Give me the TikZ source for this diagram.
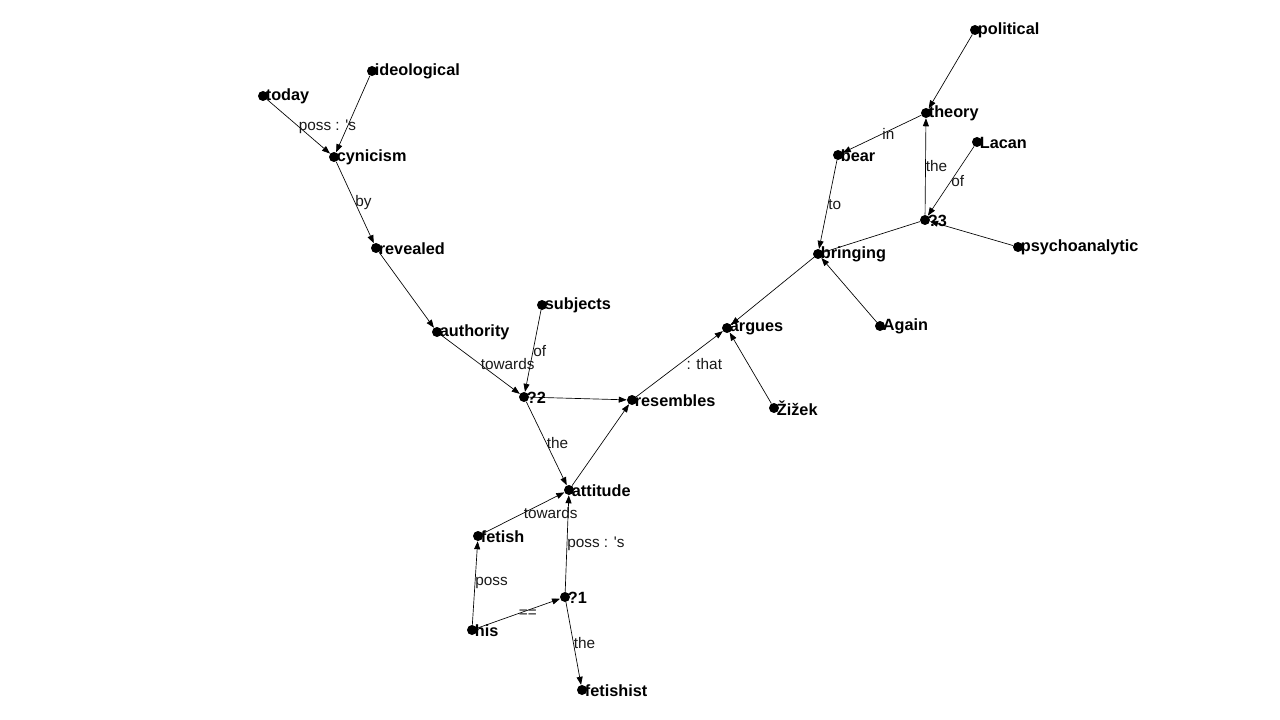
\documentclass[tikz,border=0pt]{standalone}
\usepackage{fontspec}
\setmainfont{Liberation Sans}[Ligatures=TeXOff]
\usetikzlibrary{arrows.meta}
\tikzset{
  v/.style={circle,fill=black,inner sep=0pt,minimum size=7.5pt},
  nl/.style={font=\fontsize{12.2}{14}\selectfont\bfseries,inner sep=0pt,anchor=west,xshift=-2pt,yshift=-0.5pt},
  el/.style={font=\fontsize{11.5}{13}\selectfont,inner sep=0pt,anchor=west,text=black!90},
  e/.style={line width=0.5pt,-{Triangle[length=6pt,width=4.5pt]}},
  u/.style={line width=0.5pt}
}
\begin{document}
\begin{tikzpicture}[x=0.75pt,y=-0.75pt]
\useasboundingbox (0,0) rectangle (1280,720);
\newcommand{\vx}[4]{\node[v,label={[nl]east:#4}] (#1) at (#2,#3) {};}
\vx{today}{263}{96}{today}
\vx{ideo}{372}{71}{ideological}
\vx{cyn}{334}{157}{cynicism}
\vx{rev}{376}{248}{revealed}
\vx{auth}{437}{332}{authority}
\vx{subj}{542}{305}{subjects}
\vx{qb}{524}{397}{?2}
\vx{res}{632}{400}{resembles}
\vx{att}{569}{490}{attitude}
\vx{fet}{478}{536}{fetish}
\vx{qa}{565}{597}{?1}
\vx{his}{472}{630}{his}
\vx{fist}{582}{690}{fetishist}
\vx{arg}{727}{328}{argues}
\vx{ziz}{774}{408}{Žižek}
\vx{bring}{818}{254}{bringing}
\vx{again}{880}{326}{Again}
\vx{bear}{838}{155}{bear}
\vx{theory}{926}{113}{theory}
\vx{pol}{975}{30}{political}
\vx{qc}{925}{220}{?3}
\vx{lacan}{977}{142}{Lacan}
\vx{psy}{1018}{247}{psychoanalytic}

\draw[e] (today) -- node[el]{poss : 's} (cyn);
\draw[e] (ideo) -- (cyn);
\draw[e] (cyn) -- node[el]{by} (rev);
\draw[e] (rev) -- (auth);
\draw[e] (auth) -- node[el]{towards} (qb);
\draw[e] (subj) -- node[el]{of} (qb);
\draw[e] (qb) -- (res);
\draw[e] (qb) -- node[el]{the} (att);
\draw[e] (att) -- (res);
\draw[e] (res) -- node[el,xshift=5pt]{: that} (arg);
\draw[e] (ziz) -- (arg);
\draw[e] (bring) -- (arg);
\draw[e] (bear) -- node[el]{to} (bring);
\draw[e] (again) -- (bring);
\draw[e] (theory) -- node[el]{in} (bear);
\draw[e] (pol) -- (theory);
\draw[e] (qc) -- node[el]{the} (theory);
\draw[e] (lacan) -- node[el]{of} (qc);
\draw[e] (psy) -- (qc);
\draw[u] (bring) -- (qc);
\draw[e] (fet) -- node[el]{towards} (att);
\draw[e] (his) -- node[el]{poss} (fet);
\draw[e] (his) -- node[el]{==} (qa);
\draw[e] (qa) -- node[el]{poss : 's} (att);
\draw[e] (qa) -- node[el]{the} (fist);
\end{tikzpicture}
\end{document}
